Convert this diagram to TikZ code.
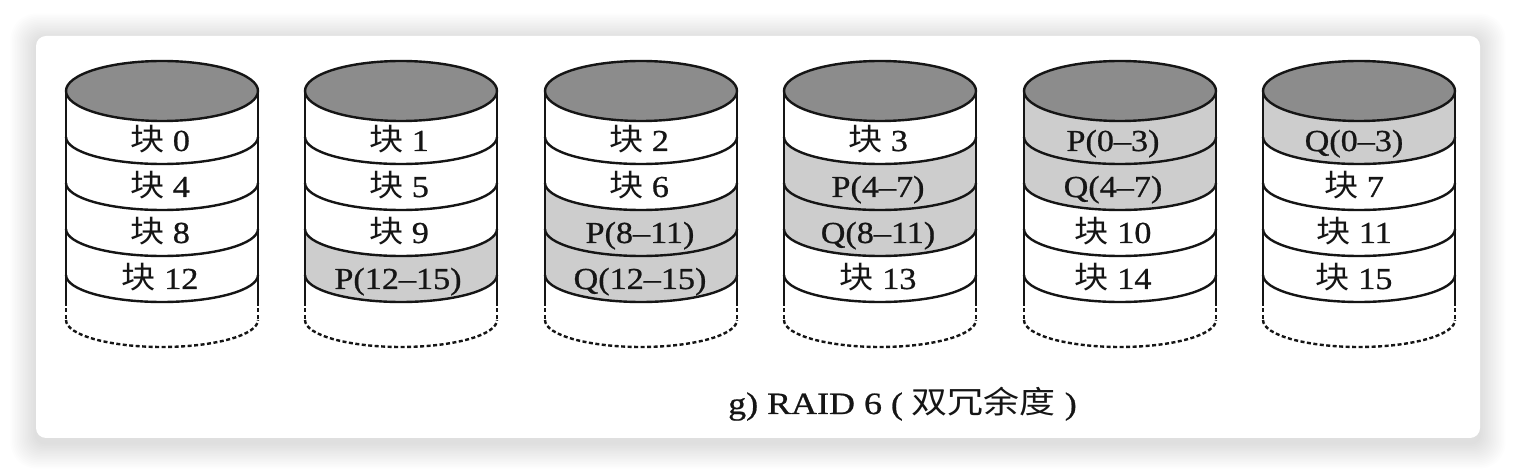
\documentclass[tikz,border=0pt]{standalone}
\usepackage{fontspec}
\usepackage{graphicx}
\setmainfont{Liberation Serif}[FakeBold=0.7]
\newfontfamily\cjk{Noto Sans CJK SC}
\definecolor{topgray}{HTML}{8C8C8C}
\definecolor{paritygray}{HTML}{CDCDCD}
\definecolor{ink}{HTML}{151515}
\newcommand\hs{1.12}
\newcommand\kuai[1]{\scalebox{\hs}[1]{{\cjk 块} #1}}
\newcommand\pq[1]{\scalebox{\hs}[1]{#1}}
\newcommand\shadeband[2]{%
  \pgfmathsetmacro\yt{#2==1 ? 383 : 337-46*(#2-2)}%
  \pgfmathsetmacro\ryt{#2==1 ? 30 : 27}%
  \pgfmathsetmacro\yb{337-46*(#2-1)}%
  \fill[paritygray] (#1-96,\yt) -- (#1-96,\yb)
    arc[start angle=180,end angle=360,x radius=96,y radius=27]
    -- (#1+96,\yt)
    arc[start angle=0,end angle=-180,x radius=96,y radius=\ryt] -- cycle;
}
\newcommand\cylframe[1]{%
  \fill[topgray] (#1,383) ellipse[x radius=96,y radius=30];
  \draw[cyl] (#1,383) ellipse[x radius=96,y radius=30];
  \draw[cyl] (#1-96,383) -- (#1-96,172);
  \draw[cyl] (#1+96,383) -- (#1+96,172);
  \draw[cyl,dash pattern=on 4pt off 2.5pt] (#1-96,172) -- (#1-96,154);
  \draw[cyl,dash pattern=on 4pt off 2.5pt] (#1+96,172) -- (#1+96,154);
  \foreach \yy in {337,291,245,199}{
    \draw[cyl] (#1-96,\yy) arc[start angle=180,end angle=360,x radius=96,y radius=27];
  }
  \draw[cyl,dash pattern=on 4pt off 2.5pt] (#1-96,154) arc[start angle=180,end angle=360,x radius=96,y radius=27];
}
\tikzset{
  cyl/.style={draw=ink,line width=2.4pt},
  lbl/.style={anchor=base,inner sep=0pt,font=\fontsize{30.5}{36}\selectfont,text=ink},
  captext/.style={anchor=base west,inner sep=0pt,font=\fontsize{31}{37}\selectfont,text=ink}
}
\begin{document}
\begin{tikzpicture}[x=1pt,y=1pt]
\useasboundingbox (0,0) rectangle (1516,474);
\fill[white] (0,0) rectangle (1516,474);
% shadow
\foreach \i in {1,...,16}{
  \fill[black,opacity=0.009,rounded corners=10pt+\i pt]
    (36-1.6*\i,474-438-5-1.6*\i) rectangle (1480+1.6*\i,474-36-3+1.6*\i);
}
% card
\fill[white,rounded corners=10pt] (36,474-438) rectangle (1480,474-36);

% parity bands
\shadeband{401}{4}
\shadeband{641}{3}
\shadeband{641}{4}
\shadeband{880}{2}
\shadeband{880}{3}
\shadeband{1120}{1}
\shadeband{1120}{2}
\shadeband{1359}{1}

\foreach \cx in {162,401,641,880,1120,1359}{\cylframe{\cx}}

\node[lbl] (d0b0) at (160,323) {\kuai{0}};
\node[lbl] (d0b1) at (160,277) {\kuai{4}};
\node[lbl] (d0b2) at (160,231) {\kuai{8}};
\node[lbl] (d0b3) at (160,185) {\kuai{12}};

\node[lbl] (d1b0) at (399,323) {\kuai{1}};
\node[lbl] (d1b1) at (399,277) {\kuai{5}};
\node[lbl] (d1b2) at (399,231) {\kuai{9}};
\node[lbl] (d1b3) at (398,185) {\pq{P(12--15)}};

\node[lbl] (d2b0) at (639,323) {\kuai{2}};
\node[lbl] (d2b1) at (639,277) {\kuai{6}};
\node[lbl] (d2b2) at (640,231) {\pq{P(8--11)}};
\node[lbl] (d2b3) at (640,185) {\pq{Q(12--15)}};

\node[lbl] (d3b0) at (878,323) {\kuai{3}};
\node[lbl] (d3b1) at (878,277) {\pq{P(4--7)}};
\node[lbl] (d3b2) at (878,231) {\pq{Q(8--11)}};
\node[lbl] (d3b3) at (878,185) {\kuai{13}};

\node[lbl] (d4b0) at (1113,323) {\pq{P(0--3)}};
\node[lbl] (d4b1) at (1113,277) {\pq{Q(4--7)}};
\node[lbl] (d4b2) at (1113,231) {\kuai{10}};
\node[lbl] (d4b3) at (1113,185) {\kuai{14}};

\node[lbl] (d5b0) at (1354,323) {\pq{Q(0--3)}};
\node[lbl] (d5b1) at (1354,277) {\kuai{7}};
\node[lbl] (d5b2) at (1354,231) {\kuai{11}};
\node[lbl] (d5b3) at (1354,185) {\kuai{15}};

\node[captext] (caption) at (728,60) {\scalebox{1.16}[1]{g) RAID 6 ( {\cjk 双冗余度} )}};
\end{tikzpicture}
\end{document}
